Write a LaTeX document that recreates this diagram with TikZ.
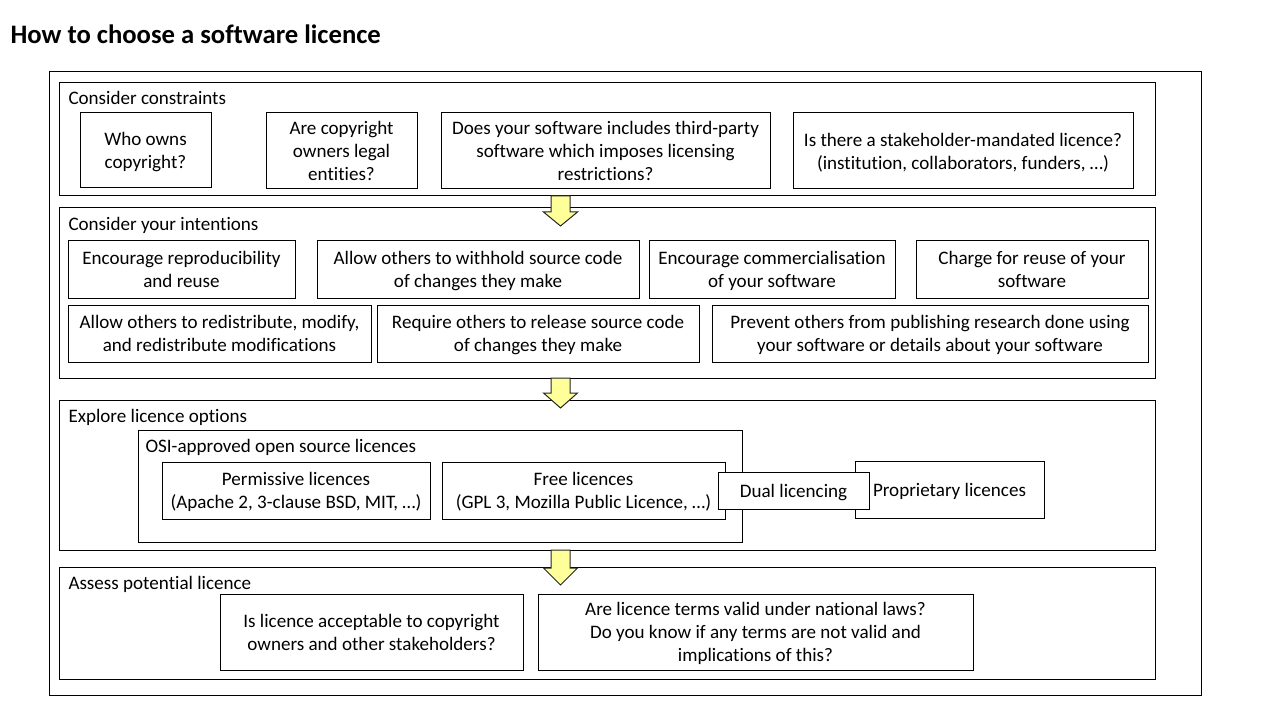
\documentclass[tikz,border=0pt]{standalone}
\usepackage{fontspec}
\setmainfont{Carlito}[Ligatures=NoCommon]
\usetikzlibrary{positioning}

\definecolor{arrowyellow}{RGB}{255,255,153}

\begin{document}
\begin{tikzpicture}[x=0.75pt, y=-0.75pt, every path/.style={line width=0.75pt},
  sized/.style 2 args={minimum width=#1*0.75pt, minimum height=#2*0.75pt},
  box/.style={draw, inner sep=0pt, align=center, fill=white, text depth=0pt, font=\fontsize{14.3}{17.25}\selectfont},
  stage/.style={draw, inner sep=0pt},
  stagetitle/.style={anchor=base west, inner sep=0pt, font=\fontsize{14.3}{17}\selectfont},
  flowarrow/.style={draw=black!85, fill=arrowyellow, line join=miter}]
\useasboundingbox (0,0) rectangle (1280,720);

\node (title) [anchor=base west, inner sep=0pt, font=\fontsize{20}{22}\selectfont\bfseries] at (10,44) {How to choose a software licence};

\node (frame) [stage, sized={1152}{623}] at (625,383.5) {};

% -------------------------------

\node (constraints) [stage, sized={1096}{113}] at (607,139.5) {};
\node (constraintsT) [stagetitle] at (68,105) {Consider constraints};

\node (owns1) [box, sized={131}{75}] at (145.5,150.5) {Who owns\\copyright?};
\node (legal1) [box, sized={151}{76}] at (341.5,151) {Are copyright\\owners legal\\entities?};
\node (thirdparty1) [box, sized={329}{76}] at (605.5,151) {Does your software includes third-party\\software which imposes licensing\\restrictions?};
\node (mandated1) [box, sized={340}{76}] at (963,151) {Is there a stakeholder-mandated licence?\\(institution, collaborators, funders, \dots)};

% -------------------------------

\node (intentions) [stage, sized={1096}{170}] at (607,293) {};
\node (intentionsT) [stagetitle] at (68,230) {Consider your intentions};

\node (reuse2) [box, sized={227}{57}] at (181.5,269.5) {Encourage reproducibility\\and reuse};
\node (withhold2) [box, sized={322}{57}] at (478,269.5) {Allow others to withhold source code\\of changes they make};
\node (commercial2) [box, sized={246}{57}] at (772,269.5) {Encourage commercialisation\\of your software};
\node (charge2) [box, sized={232}{57}] at (1032,269.5) {Charge for reuse of your\\software};
\node (redistribute2) [box, sized={303}{57}] at (219.5,333.5) {Allow others to redistribute, modify,\\and redistribute modifications};
\node (release2) [box, sized={322}{57}] at (538,333.5) {Require others to release source code\\of changes they make};
\node (prevent2) [box, sized={436}{57}] at (930,333.5) {Prevent others from publishing research done using\\your software or details about your software};

% -------------------------------

\node (options) [stage, sized={1096}{150}] at (607,475) {};
\node (optionsT) [stagetitle] at (68,422) {Explore licence options};

\node (osi3) [stage, sized={604}{112}] at (440,486) {};
\node (osiT) [stagetitle] at (145,452) {OSI-approved open source licences};

\node (permissive3) [box, sized={268}{57}] at (296,490.5) {Permissive licences\\(Apache 2, 3-clause BSD, MIT, \dots)};
\node (free3) [box, sized={283}{57}] at (583.5,490.5) {Free licences\\(GPL 3, Mozilla Public Licence, \dots)};
\node (proprietary3) [box, sized={189}{57}] at (949.5,489.5) {Proprietary licences};
\node (dual3) [box, sized={151}{37}] at (793.5,490.5) {Dual licencing};

% -------------------------------

\node (assess) [stage, sized={1096}{112}] at (607,623) {};
\node (assessT) [stagetitle] at (68,589) {Assess potential licence};

\node (acceptable4) [box, sized={303}{76}] at (371.5,632) {Is licence acceptable to copyright\\owners and other stakeholders?};
\node (laws4) [box, sized={435}{76}] at (755.5,632) {Are licence terms valid under national laws?\\Do you know if any terms are not valid and\\implications of this?};

% -------------------------------

\foreach \top/\base/\tip in {196/212/226, 378/393/408, 550/568/585}
  \draw[flowarrow] (551,\top) -- (570,\top) -- (570,\base) -- (577.5,\base) -- (560.5,\tip) -- (543.5,\base) -- (551,\base) -- cycle;
\end{tikzpicture}
\end{document}
